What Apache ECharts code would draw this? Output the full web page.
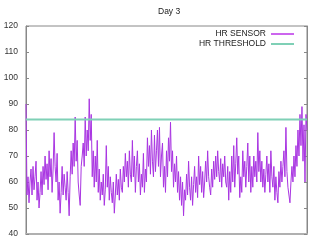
<!DOCTYPE html>
<html>
<head>
<meta charset="utf-8">
<script src="https://cdn.jsdelivr.net/npm/echarts@6/dist/echarts.min.js"></script>
<style>html,body{margin:0;padding:0;background:#fff}#c{width:315px;height:242px}</style>
</head>
<body>
<div id="c"></div>
<script>
const chartTitle = 'Day 3';
const seriesNames = ['HR SENSOR', 'HR THRESHOLD'];
const yTicks = [40, 50, 60, 70, 80, 90, 100, 110, 120];
const hrThreshold = 84;
const sensorHR = [
  90, 55, 62, 52, 60, 65, 55, 66, 57, 62,
  68, 53, 60, 50, 56, 64, 55, 66, 59, 70,
  61, 67, 57, 72, 62, 69, 56, 65, 79, 66,
  60, 71, 53, 60, 48, 56, 66, 55, 63, 58,
  53, 64, 56, 47, 62, 72, 63, 75, 66, 85,
  68, 76, 60, 55, 51, 66, 70, 75, 66, 85,
  70, 80, 72, 92, 76, 86, 62, 72, 58, 70,
  60, 76, 56, 65, 53, 60, 55, 63, 51, 57,
  74, 58, 66, 53, 62, 56, 52, 60, 48, 55,
  63, 55, 61, 53, 65, 58, 56, 66, 60, 71,
  62, 68, 58, 72, 63, 60, 76, 62, 70, 56,
  66, 72, 60, 67, 55, 63, 58, 71, 56, 65,
  60, 77, 66, 74, 63, 80, 68, 62, 78, 64,
  72, 80, 66, 81, 62, 70, 75, 58, 66, 56,
  72, 62, 77, 68, 83, 64, 72, 58, 67, 60,
  70, 56, 64, 53, 62, 51, 60, 47, 57, 53,
  63, 55, 68, 58, 53, 62, 51, 59, 66, 56,
  62, 54, 70, 59, 66, 56, 64, 54, 60, 68,
  60, 72, 62, 58, 55, 65, 58, 68, 61, 70,
  62, 72, 64, 60, 69, 58, 67, 62, 70, 60,
  58, 66, 53, 64, 56, 70, 60, 74, 58, 67,
  77, 63, 70, 54, 62, 56, 72, 62, 68, 58,
  66, 75, 60, 70, 56, 66, 58, 70, 62, 68,
  60, 79, 64, 72, 60, 68, 58, 65, 56, 63,
  70, 60, 67, 56, 72, 62, 58, 66, 53, 62,
  56, 52, 64, 58, 68, 60, 66, 72, 62, 81,
  64, 58, 55, 52, 60, 66, 60, 70, 62, 74,
  66, 80, 70, 86, 74, 89, 68, 82, 60, 86, 80
];
const sampleIndex = sensorHR.map((_, i) => i);
const thresholdLine = sensorHR.map(() => hrThreshold);

const font = 'Liberation Sans, Arial, sans-serif';
const chart = echarts.init(document.getElementById('c'), null, {renderer: 'canvas'});
chart.setOption({
  animation: false,
  backgroundColor: '#fff',
  title: {
    text: chartTitle, left: 153, top: 2,
    textStyle: {fontFamily: font, fontSize: 8.5, fontWeight: 'normal', color: '#222'}
  },
  legend: {
    orient: 'vertical', right: 16, top: 24, align: 'right',
    itemWidth: 23, itemHeight: 2, itemGap: 0, icon: 'rect',
    textStyle: {fontFamily: font, fontSize: 8.5, color: '#222', lineHeight: 10},
    data: seriesNames
  },
  grid: {left: 26, right: 8, top: 26, bottom: 8, show: true, borderColor: '#888', borderWidth: 1},
  xAxis: {
    type: 'category', data: sampleIndex, boundaryGap: false,
    axisLine: {show: true, lineStyle: {color: '#b0b0b0', width: 2}},
    axisTick: {show: false}, axisLabel: {show: false}, splitLine: {show: false}
  },
  yAxis: [{
    type: 'value', min: yTicks[0], max: yTicks[yTicks.length - 1], interval: 10,
    axisLine: {show: true, lineStyle: {color: '#888'}},
    axisTick: {show: true, inside: true, length: 3, lineStyle: {color: '#888'}},
    axisLabel: {fontFamily: font, fontSize: 8.5, color: '#333', margin: 8},
    splitLine: {show: false}
  }, {
    type: 'value', position: 'right', min: yTicks[0], max: yTicks[yTicks.length - 1], interval: 10,
    axisLine: {show: true, lineStyle: {color: '#888'}},
    axisTick: {show: true, inside: true, length: 3, lineStyle: {color: '#888'}},
    axisLabel: {show: false}, splitLine: {show: false}
  }],
  series: [{
    name: seriesNames[0], type: 'line', data: sensorHR, showSymbol: false, symbol: 'none',
    lineStyle: {color: '#a935e2', width: 1}, itemStyle: {color: '#cc66ee'}
  }, {
    name: seriesNames[1], type: 'line', data: thresholdLine, showSymbol: false, symbol: 'none',
    lineStyle: {color: '#7fd0b6', width: 2}, itemStyle: {color: '#7fd0b6'}
  }]
});
</script>
</body>
</html>
